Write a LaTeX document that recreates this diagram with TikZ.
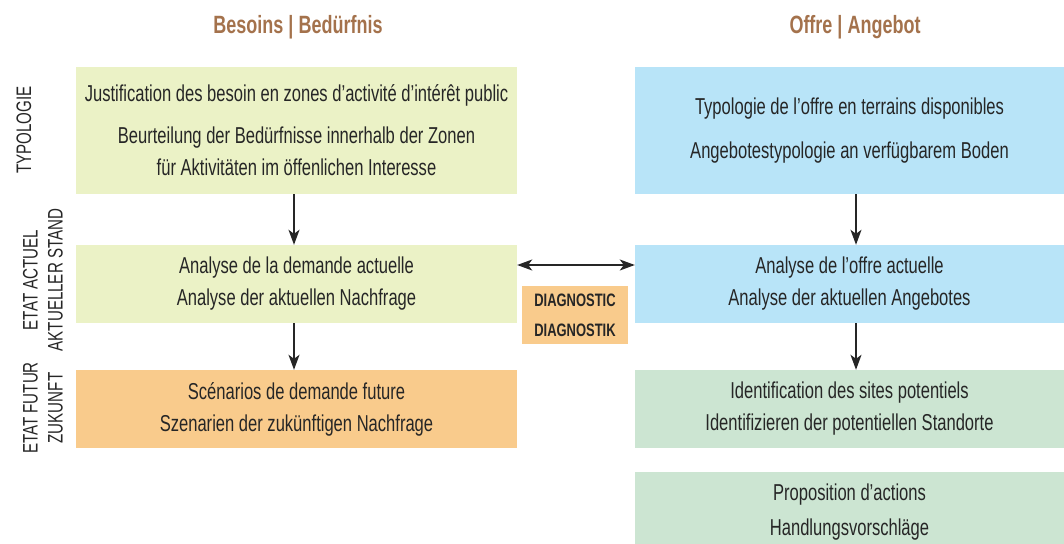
\documentclass[tikz,border=0pt]{standalone}
\usepackage{fontspec}
\setmainfont[FakeStretch=0.72]{Liberation Sans}
\usetikzlibrary{positioning,arrows.meta}

\definecolor{besoingreen}{HTML}{EBF2C6}
\definecolor{offreblue}{HTML}{B8E4F8}
\definecolor{futurorange}{HTML}{F9CB8C}
\definecolor{sitegreen}{HTML}{CCE5D2}
\definecolor{headbrown}{HTML}{A4724C}
\definecolor{textdark}{HTML}{262626}

\tikzset{
  box/.style={inner sep=0pt, align=center, text=textdark,
    font=\fontsize{23}{32}\selectfont},
  leftbox/.style={box, minimum width=441pt},
  rightbox/.style={box, minimum width=429pt},
  header/.style={text=headbrown, font=\fontsize{25}{28}\selectfont\bfseries},
  sidelabel/.style={rotate=90, text=textdark, align=center,
    font=\fontsize{21}{25}\selectfont},
  flow/.style={->, line width=1.5pt, textdark}
}

\begin{document}
\begin{tikzpicture}[>={Stealth[length=15pt,width=11pt,inset=4pt]}, x=1pt, y=-1pt]

\useasboundingbox (0,0) rectangle (1064,543);

% Column headers
\node[header] (hBesoin) at (298,27) {Besoins | Bedürfnis};
\node[header] (hOffre) at (855,27) {Offre | Angebot};

% Row labels
\node[sidelabel] (lTyp) at (24,130) {TYPOLOGIE};
\node[sidelabel] (lActuel) at (43,280) {ETAT ACTUEL\\AKTUELLER STAND};
\node[sidelabel] (lFutur) at (43,408) {ETAT FUTUR\\ZUKUNFT};

%% Besoins column
\node[leftbox, fill=besoingreen, minimum height=127pt] (besoinTyp) at (296.5,130.5)
  {Justification des besoin en zones d’activité d’intérêt public\\[10pt]
   Beurteilung der Bedürfnisse innerhalb der Zonen\\
   für Aktivitäten im öffenlichen Interesse};
\node[leftbox, fill=besoingreen, minimum height=78pt] (besoinActuel) at (296.5,284)
  {Analyse de la demande actuelle\\Analyse der aktuellen Nachfrage};
\node[leftbox, fill=futurorange, minimum height=78pt] (besoinFutur) at (296.5,409)
  {Scénarios de demande future\\Szenarien der zukünftigen Nachfrage};

%% Offre column
\node[rightbox, fill=offreblue, minimum height=127pt] (offreTyp) at (849.5,130.5)
  {Typologie de l’offre en terrains disponibles\\[12pt]
   Angebotestypologie an verfügbarem Boden};
\node[rightbox, fill=offreblue, minimum height=78pt] (offreActuel) at (849.5,284)
  {Analyse de l’offre actuelle\\Analyse der aktuellen Angebotes};
\node[rightbox, fill=sitegreen, minimum height=78pt] (offreSites) at (849.5,409)
  {Identification des sites potentiels\\Identifizieren der potentiellen Standorte};
\node[rightbox, fill=sitegreen, minimum height=80pt] (offreActions) at (849.5,512)
  {Proposition d’actions\\[3pt]Handlungsvorschläge};

%% Diagnostic
\node[box, fill=futurorange, minimum width=106pt, minimum height=58pt,
  font=\fontsize{18}{30}\selectfont\bfseries] (diag) at (575,315)
  {DIAGNOSTIC\\DIAGNOSTIK};

% Arrows
\draw[flow] (besoinTyp.south -| 294,0) -- (besoinActuel.north -| 294,0);
\draw[flow] (besoinActuel.south -| 294,0) -- (besoinFutur.north -| 294,0);
\draw[flow] (offreTyp.south -| 856,0) -- (offreActuel.north -| 856,0);
\draw[flow] (offreActuel.south -| 856,0) -- (offreSites.north -| 856,0);
\draw[flow, <->] (besoinActuel.east |- 0,265) -- (offreActuel.west |- 0,265);

\end{tikzpicture}
\end{document}
